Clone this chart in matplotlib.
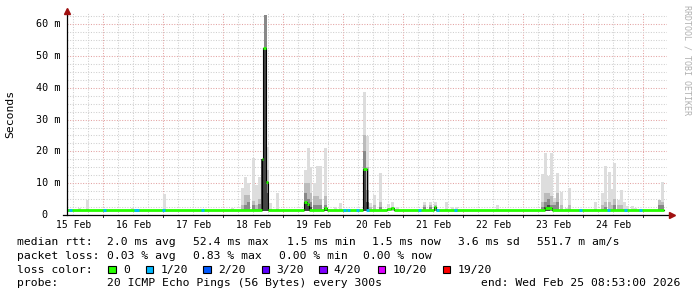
import matplotlib
matplotlib.use("Agg")
import matplotlib.pyplot as plt
from matplotlib.patches import Rectangle

# time axis in days since 15 Feb 00:00
t_start, t_end = 0.395, 10.395
data_end = 10.345
day_labels = ["15 Feb", "16 Feb", "17 Feb", "18 Feb", "19 Feb",
              "20 Feb", "21 Feb", "22 Feb", "23 Feb", "24 Feb"]
y_ticks = [0, 10, 20, 30, 40, 50, 60]
y_labels = ["0", "10 m", "20 m", "30 m", "40 m", "50 m", "60 m"]

# smoke: one entry per data point (ms); mid/dark/core are the tops of darker bands
smoke_floor = 1.3
smoke_t = [0.603, 0.740, 1.490, 2.023, 3.157, 3.328, 3.378, 3.428, 3.495, 3.553,
           3.603, 3.653, 3.695, 3.737, 3.787, 3.903, 4.370, 4.412, 4.453, 4.520,
           4.578, 4.628, 4.695, 4.862, 4.945, 5.353, 5.403, 5.453, 5.520, 5.620,
           5.753, 5.812, 5.903, 6.353, 6.453, 6.537, 6.728, 6.823, 6.895, 7.573,
           8.325, 8.373, 8.423, 8.473, 8.528, 8.578, 8.633, 8.720, 8.778, 9.208,
           9.325, 9.378, 9.437, 9.478, 9.528, 9.587, 9.637, 9.687, 9.745, 9.820,
           9.878, 10.262, 10.320]
smoke_max = [2.3, 4.8, 2.3, 6.6, 2.3, 8.4, 12.0, 10.0, 18.0, 9.4,
             12.0, 17.7, 63.0, 21.5, 3.9, 6.8, 14.0, 21.0, 15.0, 10.0,
             15.4, 15.4, 21.0, 2.6, 3.7, 38.8, 24.8, 3.7, 6.3, 13.3,
             3.5, 4.0, 2.6, 4.2, 4.2, 4.2, 4.0, 2.6, 2.6, 3.1,
             12.8, 19.4, 12.4, 19.6, 5.2, 13.3, 7.3, 2.1, 8.4, 4.2,
             7.0, 15.5, 13.6, 8.2, 16.4, 4.7, 7.9, 4.2, 2.8, 2.8,
             2.3, 4.7, 10.5]
smoke_mid = [0, 2.0, 0, 2.0, 0, 3.0, 6.3, 6.3, 4.5, 3.0,
             5.0, 17.7, 63.0, 14.0, 2.0, 2.0, 10.0, 10.0, 7.0, 6.0,
             6.0, 5.0, 6.0, 0, 0, 25.0, 15.0, 2.5, 3.0, 4.0,
             2.0, 2.5, 0, 3.0, 3.0, 3.0, 2.0, 0, 0, 0,
             4.0, 7.0, 7.0, 6.0, 4.0, 7.0, 3.0, 0, 3.0, 2.0,
             3.0, 4.0, 4.0, 3.0, 5.0, 3.0, 3.0, 2.0, 0, 0,
             0, 4.7, 4.0]
smoke_dark = [0, 0, 0, 0, 0, 0, 3.0, 4.0, 3.0, 2.0,
              3.5, 17.7, 63.0, 10.4, 0, 0, 7.0, 5.0, 4.0, 3.0,
              3.0, 3.0, 3.0, 0, 0, 20.0, 8.0, 0, 0, 2.5,
              0, 0, 0, 2.5, 2.5, 2.5, 0, 0, 0, 0,
              2.5, 4.0, 5.0, 3.0, 3.0, 4.0, 0, 0, 0, 0,
              2.0, 2.5, 0, 0, 3.0, 0, 0, 0, 0, 0,
              0, 3.0, 3.0]
smoke_core = [0, 0, 0, 0, 0, 0, 0, 0, 0, 0,
              0, 17.7, 52.0, 7.0, 0, 0, 4.2, 3.5, 2.5, 0,
              0, 0, 2.2, 0, 0, 14.4, 4.0, 0, 0, 0,
              0, 0, 0, 0, 0, 0, 0, 0, 0, 0,
              0, 2.5, 3.0, 0, 0, 0, 0, 0, 0, 0,
              0, 0, 0, 0, 0, 0, 0, 0, 0, 0,
              0, 0, 0]

# median rtt (ms), step starts
med_t = [0.395, 3.640, 3.667, 3.712, 3.753, 4.337, 4.387, 4.433, 4.678, 4.728,
         5.333, 5.390, 5.723, 5.795, 5.837, 6.512, 6.553, 8.362, 8.473]
med_v = [1.5, 17.7, 52.4, 10.4, 1.5, 4.2, 3.5, 1.5, 2.2, 1.5,
         14.4, 1.5, 1.8, 2.3, 1.5, 2.4, 1.5, 2.2, 1.5]

# points with 1/20 packet loss
loss_t = [0.445, 1.028, 1.553, 1.995, 2.645, 5.028, 5.083, 5.240, 5.407, 6.278,
          6.570, 6.862, 8.945, 9.412, 9.695, 9.945]
loss_w = [0.05, 0.05, 0.09, 0.05, 0.05, 0.05, 0.05, 0.05, 0.05, 0.05,
          0.05, 0.05, 0.05, 0.05, 0.05, 0.05]

loss_names = ["0", "1/20", "2/20", "3/20", "4/20", "10/20", "19/20"]
loss_colors = ["#26ff00", "#00b8ff", "#0059ff", "#5e00ff", "#7e00ff", "#dd00ff", "#ff0000"]

W, H = 697, 297
mono = "DejaVu Sans Mono"
plt.rcParams["font.family"] = mono

fig = plt.figure(figsize=(W / 100, H / 100), dpi=100)
ax = fig.add_axes([67 / W, 82 / H, 600 / W, 202 / H])
ax.set_xlim(t_start, t_end)
ax.set_ylim(0, 63.5)
for s in ax.spines.values():
    s.set_visible(False)
ax.set_xticks([])
ax.set_yticks([])

# grid
grey = "#cfcfcf"
pink = "#e3a3a3"
dots = (0, (1, 1.5))
for i in range(1, 41):
    x = i * 0.25
    if x <= t_start or x >= t_end:
        continue
    ax.axvline(x, color=pink if i % 4 == 0 else grey, lw=0.75, ls=dots, zorder=1)
for i in range(1, 26):
    y = i * 2.5
    ax.axhline(y, color=pink if i % 4 == 0 else grey, lw=0.75, ls=dots, zorder=1)

# smoke
bar_w = 0.05
for tops, col in [(smoke_max, "#dddddd"), (smoke_mid, "#bbbbbb"),
                  (smoke_dark, "#888888"), (smoke_core, "#444444")]:
    xs = [t for t, v in zip(smoke_t, tops) if v > smoke_floor]
    hs = [v - smoke_floor for v in tops if v > smoke_floor]
    ax.bar(xs, hs, bottom=smoke_floor, width=bar_w, color=col, linewidth=0, zorder=2)

# median line
ax.step(med_t + [data_end], med_v + [med_v[-1]], where="post", color="black", lw=0.8, zorder=3)
ax.hlines(med_v, med_t, med_t[1:] + [data_end], color=loss_colors[0], lw=2.0, zorder=4)
ax.hlines([1.5] * len(loss_t), [t - w / 2 for t, w in zip(loss_t, loss_w)],
          [t + w / 2 for t, w in zip(loss_t, loss_w)], color=loss_colors[1], lw=2.0, zorder=5)

# axes with arrows
ax.plot([0, 0], [0, 1.02], transform=ax.transAxes, color="black", lw=0.9, clip_on=False, zorder=6)
ax.plot([-0.007, 1.007], [0, 0], transform=ax.transAxes, color="black", lw=0.9, clip_on=False, zorder=6)
ax.plot([0], [1.012], marker="^", ms=4, color="#a01010", transform=ax.transAxes, clip_on=False, zorder=7)
ax.plot([1.008], [0], marker=">", ms=4, color="#a01010", transform=ax.transAxes, clip_on=False, zorder=7)

# tick labels
for v, lab in zip(y_ticks, y_labels):
    if lab == "0":
        ax.text(-0.038, v, lab, ha="center", va="center", fontsize=7.3,
                transform=ax.get_yaxis_transform())
    else:
        ax.text(-0.0115, v, lab, ha="right", va="center", fontsize=7.3,
                transform=ax.get_yaxis_transform())
for i, lab in enumerate(day_labels):
    ax.text(i + 0.5, -0.048, lab, ha="center", va="center", fontsize=7.0,
            transform=ax.get_xaxis_transform())
    ax.plot([i + 1, i + 1], [0, -0.012], color="black", lw=0.6,
            transform=ax.get_xaxis_transform(), clip_on=False)


def ftext(x, y, s, **kw):
    fig.text(x / W, 1 - y / H, s, **kw)


ftext(10, 114, "Seconds", rotation=90, ha="center", va="center", fontsize=8.2)
ftext(686.5, 5, "RRDTOOL / TOBI OETIKER", rotation=270, ha="center", va="top",
      fontsize=6.0, color="#b0b0b0")

fs = 8.2
line1 = [(16.7, "median rtt:"), (107.3, "2.0 ms avg"), (193.3, "52.4 ms max"),
         (286.7, "1.5 ms min"), (372.3, "1.5 ms now"), (458.3, "3.6 ms sd"),
         (537.3, "551.7 m am/s")]
line2 = [(16.7, "packet loss:"), (107.3, "0.03 % avg"), (193.3, "0.83 % max"),
         (279.3, "0.00 % min"), (363.3, "0.00 % now")]
for x, s in line1:
    ftext(x, 245.3, s, ha="left", va="baseline", fontsize=fs)
for x, s in line2:
    ftext(x, 259.0, s, ha="left", va="baseline", fontsize=fs)

ftext(16.7, 272.7, "loss color:", ha="left", va="baseline", fontsize=fs)
box_x = [108.3, 145.7, 203.3, 261.7, 319.3, 377.7, 442.7]
for bx, name, col in zip(box_x, loss_names, loss_colors):
    fig.add_artist(Rectangle((bx / W, 1 - 273.3 / H), 7.3 / W, 7.6 / H,
                             transform=fig.transFigure, facecolor=col,
                             edgecolor="black", lw=0.8))
    ftext(bx + 14.5, 272.7, name, ha="left", va="baseline", fontsize=fs)

ftext(16.7, 286.5, "probe:", ha="left", va="baseline", fontsize=fs)
ftext(107.3, 286.5, "20 ICMP Echo Pings (56 Bytes) every 300s", ha="left", va="baseline", fontsize=fs)
ftext(680, 286.5, "end: Wed Feb 25 08:53:00 2026", ha="right", va="baseline", fontsize=fs)

fig.savefig("out.png", dpi=100, facecolor="white")
